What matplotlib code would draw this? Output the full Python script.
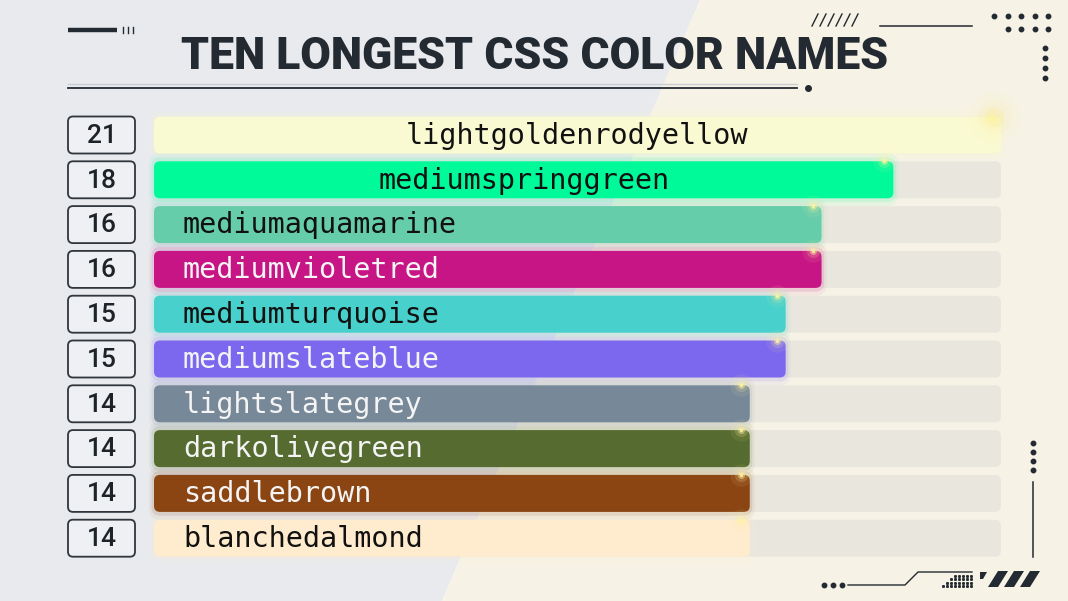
import numpy as np
import matplotlib.pyplot as plt
from matplotlib.patches import FancyBboxPatch, Polygon
from matplotlib.colors import to_rgb

names = ['lightgoldenrodyellow', 'mediumspringgreen', 'mediumaquamarine',
         'mediumvioletred', 'mediumturquoise', 'mediumslateblue',
         'lightslategrey', 'darkolivegreen', 'saddlebrown', 'blanchedalmond']
lengths = [21, 18, 16, 16, 15, 15, 14, 14, 14, 14]
title = 'TEN LONGEST CSS COLOR NAMES'

W, H = 1068, 601
ink = '#232a31'
fig = plt.figure(figsize=(W / 100, H / 100), dpi=100)

# background + decorations in pixel coords
bg = fig.add_axes([0, 0, 1, 1])
bg.set_xlim(0, W)
bg.set_ylim(H, 0)
bg.axis('off')
bg.add_patch(Polygon([(0, 0), (700, 0), (442, H), (0, H)], color='#e8eaee', lw=0))
bg.add_patch(Polygon([(700, 0), (W, 0), (W, H), (442, H)], color='#f6f3e6', lw=0))

bg.plot([68, 117], [30, 30], color=ink, lw=3.2, solid_capstyle='butt')
for x in [123, 128, 133]:
    bg.plot([x, x], [27, 33], color=ink, lw=1)
bg.plot([68, 797], [84, 84], color='#c9ccd0', lw=1)
bg.plot([68, 797], [88, 88], color=ink, lw=1.3)
bg.plot(808, 88, 'o', color=ink, ms=4)
for k in range(6):
    x = 812 + 8 * k
    bg.plot([x, x + 6], [26, 14], color=ink, lw=1)
bg.plot([880, 972], [26, 26], color=ink, lw=1.1)
for k in range(5):
    bg.plot(994 + 13.5 * k, 16, 'o', color=ink, ms=3.2)
for k in range(4):
    bg.plot(1007.5 + 13.5 * k, 29, 'o', color=ink, ms=3.2)
for k in range(4):
    bg.plot(1045, 48 + 10 * k, 'o', color=ink, ms=3.2)
for k in range(4):
    bg.plot(1033, 443 + 9 * k, 'o', color=ink, ms=3.2)
bg.plot([1033, 1033], [482, 557], color=ink, lw=1.1)
for k in range(3):
    bg.plot(824 + 9 * k, 585, 'o', color=ink, ms=3.2)
bg.plot([848, 905, 918, 972], [585, 585, 572, 572], color=ink, lw=1)
for r in range(4):
    for c in range(8 - r):
        bg.plot(971 - 4 * c, 586 - 3.5 * r, 's', color=ink, ms=1.1)
bg.add_patch(Polygon([(980, 572), (987, 572), (983, 579), (980, 579)], color=ink, lw=0))
for k in range(3):
    xa = 988 + 16 * k
    bg.add_patch(Polygon([(xa, 587), (xa + 10, 571), (xa + 20, 571), (xa + 10, 587)], color=ink, lw=0))

fig.text(535 / W, 1 - 57 / H, title, ha='center', va='center', fontsize=32,
         fontweight='black', family='Roboto', color=ink)

# bar axes
x0 = -2.6
px_x = 847 / (max(lengths) - x0)
row_px = 44.8
xmin = x0 - 154 / px_x
ymin = -135 / row_px
ax = fig.add_axes([0, 0, 1, 1], zorder=2)
ax.patch.set_alpha(0)
ax.axis('off')
ax.set_xlim(xmin, xmin + W / px_x)
ax.set_ylim(ymin + H / row_px, ymin)
asp = px_x / row_px
bh = 37 / row_px
rad = 6 / px_x

for i, (n, v) in enumerate(zip(names, lengths)):
    ax.add_patch(FancyBboxPatch((x0, i - bh / 2), max(lengths) - x0, bh,
                                boxstyle=f'round,pad=0,rounding_size={rad}',
                                mutation_aspect=asp, fc='#dadad3', ec='none', alpha=0.45))
    rgb = np.array(to_rgb(n))
    for gpx, ga in [(5, 0.06), (2.5, 0.12)]:
        g = gpx / px_x
        ax.add_patch(FancyBboxPatch((x0 - g, i - bh / 2 - g / asp), v - x0 + 2 * g, bh + 2 * g / asp,
                                    boxstyle=f'round,pad=0,rounding_size={rad + g}',
                                    mutation_aspect=asp, fc=n, ec='none', alpha=ga))
    ax.add_patch(FancyBboxPatch((x0, i - bh / 2), v - x0, bh,
                                boxstyle=f'round,pad=0,rounding_size={rad}',
                                mutation_aspect=asp, fc=n, ec='none'))
    lum = 0.299 * rgb[0] + 0.587 * rgb[1] + 0.114 * rgb[2]
    tc = '#f4f4f4' if lum < 0.55 else '#111111'
    if v >= 18:
        ax.text((x0 + v) / 2, i + 0.02, n, ha='center', va='center', fontsize=20.5,
                family='DejaVu Sans Mono', color=tc)
    else:
        ax.text(x0 + 29 / px_x, i + 0.02, n, ha='left', va='center', fontsize=20.5,
                family='DejaVu Sans Mono', color=tc)
    # sparkle at bar tip
    tip = (v - 0.25, i - bh / 2)
    for s, a in [(260, 0.08), (90, 0.18), (25, 0.45), (5, 0.9)]:
        ax.scatter(*tip, s=s, color='#fff3a0', alpha=a, lw=0, zorder=5)
    # number box
    bx = xmin + 68 / px_x
    ax.add_patch(FancyBboxPatch((bx, i - bh / 2), 67 / px_x, bh,
                                boxstyle=f'round,pad=0,rounding_size={5 / px_x}',
                                mutation_aspect=asp, fc='#eef0f3', ec='#30363c', lw=1.3))
    ax.text(bx + 33.5 / px_x, i + 0.02, str(v), ha='center', va='center', fontsize=19,
            family='Roboto', fontweight='medium', color='#1e2328')

for s, a in [(1400, 0.06), (600, 0.1), (200, 0.18)]:
    ax.scatter(lengths[0] - 0.2, -bh / 2, s=s, color='#ffe680', alpha=a, lw=0, zorder=4)

fig.savefig('out.png', dpi=100)
